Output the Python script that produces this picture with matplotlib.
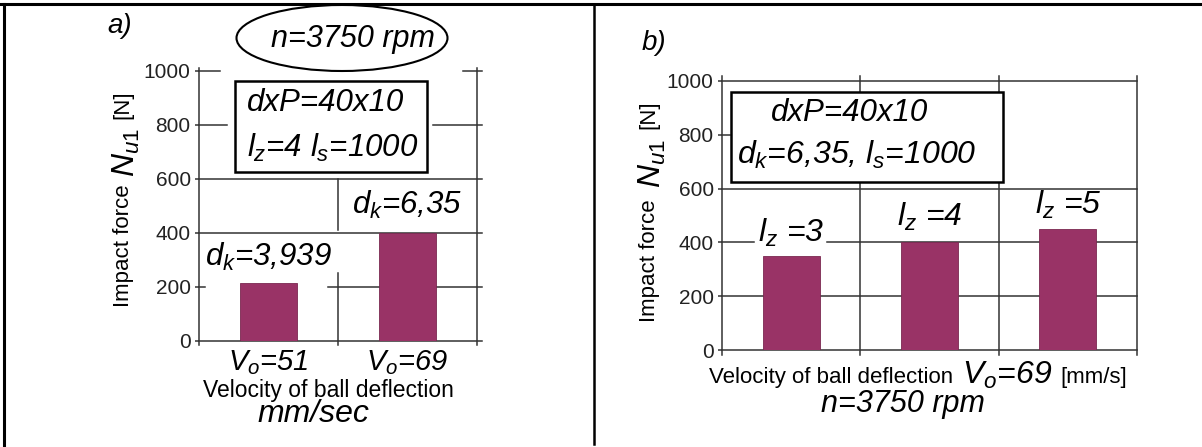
import matplotlib
matplotlib.use("Agg")
import matplotlib.pyplot as plt
from matplotlib.patches import Ellipse, Rectangle
from matplotlib.lines import Line2D

plt.rcParams['font.family'] = ['Liberation Sans', 'DejaVu Sans']
plt.rcParams['mathtext.fontset'] = 'custom'
plt.rcParams['mathtext.rm'] = 'Liberation Sans'
plt.rcParams['mathtext.it'] = 'Liberation Sans:italic'
plt.rcParams['mathtext.default'] = 'it'

# ===== Data =====
cats_a = [r'$V_o$=51', r'$V_o$=69']
force_a = [215, 400]
labels_a = [r'$d_k$=3,939', r'$d_k$=6,35']
label_y_a = [311, 504]

cats_b = ['3', '4', '5']
force_b = [350, 400, 450]
labels_b = [r'$l_z$ =3', r'$l_z$ =4', r'$l_z$ =5']
label_y_b = [435, 494, 539]

yticks = [0, 200, 400, 600, 800, 1000]
bar_color = '#993366'
grid_c = '#333333'

W, H = 1202, 447
fig = plt.figure(figsize=(W / 100, H / 100), dpi=100)


def px(x, y):
    return x / W, 1 - y / H


def hseg(ax, y, segs):
    for a, b in segs:
        ax.axhline(y, a, b, color=grid_c, lw=1.1, clip_on=False, zorder=1)


def vseg(ax, x, segs):
    for a, b in segs:
        ax.axvline(x, a, b, color=grid_c, lw=1.1, clip_on=False, zorder=1)


def setup(ax, ncat):
    ax.set_xlim(-0.5, ncat - 0.5)
    ax.set_ylim(0, 1000)
    for s in ax.spines.values():
        s.set_visible(False)
    ax.set_yticks(yticks)
    ax.tick_params(axis='y', length=3, width=1.1, color=grid_c, labelsize=15, pad=3,
                   labelcolor='#222222')
    ax.tick_params(axis='x', length=0)


# ===== Panel a =====
l, r, t, b = 199, 477, 71, 341
ax0 = fig.add_axes([l / W, 1 - b / H, (r - l) / W, (b - t) / H])
setup(ax0, 2)
ax0.bar(range(2), force_a, width=0.41, color=bar_color, edgecolor='#7a2850', lw=0.6, zorder=3)
ax0.set_xticks(range(2), cats_a, fontsize=21, style='italic')
ax0.tick_params(axis='x', pad=5)

ext = 1.018
hseg(ax0, 1000, [(0, 0.075), (0.95, ext)])
hseg(ax0, 800, [(0, 0.10), (0.842, ext)])
hseg(ax0, 600, [(0, ext)])
hseg(ax0, 400, [(0, ext)])
hseg(ax0, 200, [(0, 0.02), (0.464, ext)])
hseg(ax0, 0, [(0, ext)])
vseg(ax0, -0.5, [(-0.015, 1.011)])
vseg(ax0, 0.5, [(-0.015, 0.252), (0.411, 0.6)])
vseg(ax0, 1.5, [(-0.015, 1.011)])

for i, (txt, ly) in enumerate(zip(labels_a, label_y_a)):
    ax0.text(i, ly, txt, ha='center', va='center', fontsize=22.5, style='italic', zorder=4)

ax0.add_patch(Rectangle((-0.24, 626), 1.38, 337, fill=True, facecolor='white',
                        edgecolor='black', lw=1.8, zorder=4))
ax0.text(-0.155, 881, 'dxP=40x10', ha='left', va='center', fontsize=22.5, style='italic', zorder=5)
ax0.text(-0.155, 715, r'$l_z$=4 $l_s$=1000', ha='left', va='center', fontsize=22.5,
         style='italic', zorder=5)

fig.text(*px(120, 26), 'a)', fontsize=20, style='italic', ha='center', va='center')
ell = Ellipse(px(342, 38), 211 / W, 66 / H, transform=fig.transFigure,
              facecolor='white', edgecolor='black', lw=1.5, zorder=5)
fig.add_artist(ell)
fig.text(*px(353, 39), 'n=3750 rpm', fontsize=22, style='italic', ha='center', va='center', zorder=6)

fig.text(*px(123, 246), 'Impact force', fontsize=16, rotation=90, ha='center', va='center')
fig.text(*px(126, 153), r'$N_{u1}$', fontsize=23, rotation=90, ha='center', va='center')
fig.text(*px(123, 105), '[N]', fontsize=16, rotation=90, ha='center', va='center')
fig.text(*px(328, 390), 'Velocity of ball deflection', fontsize=16.5, ha='center', va='center')
fig.text(*px(313, 414), 'mm/sec', fontsize=23, style='italic', ha='center', va='center')

# ===== Panel b =====
l, r, t, b = 722, 1137, 81, 350
ax1 = fig.add_axes([l / W, 1 - b / H, (r - l) / W, (b - t) / H])
setup(ax1, 3)
ax1.bar(range(3), force_b, width=0.41, color=bar_color, edgecolor='#7a2850', lw=0.6, zorder=3)
ax1.set_xticks([])

hseg(ax1, 1000, [(0, 1)])
hseg(ax1, 800, [(0, 0.02)])
hseg(ax1, 600, [(0, 1)])
hseg(ax1, 400, [(0, 0.077), (0.253, 1)])
hseg(ax1, 200, [(0, 1)])
hseg(ax1, 0, [(0, 1)])
for xv in [-0.5, 0.5, 1.5, 2.5]:
    vseg(ax1, xv, [(-0.018, 1.018)])

for i, (txt, ly) in enumerate(zip(labels_b, label_y_b)):
    ax1.text(i, ly, txt, ha='center', va='center', fontsize=23, style='italic', zorder=4)

ax1.add_patch(Rectangle((-0.435, 624), 1.966, 335, fill=True, facecolor='white',
                        edgecolor='black', lw=1.8, zorder=4))
ax1.text(0.425, 881, 'dxP=40x10', ha='center', va='center', fontsize=22.5, style='italic', zorder=5)
ax1.text(0.476, 725, r'$d_k$=6,35, $l_s$=1000', ha='center', va='center', fontsize=23,
         style='italic', zorder=5)

fig.text(*px(654, 43), 'b)', fontsize=20, style='italic', ha='center', va='center')
fig.text(*px(649, 261), 'Impact force', fontsize=16, rotation=90, ha='center', va='center')
fig.text(*px(652, 164), r'$N_{u1}$', fontsize=23, rotation=90, ha='center', va='center')
fig.text(*px(649, 115), '[N]', fontsize=16, rotation=90, ha='center', va='center')
fig.text(*px(709, 378), 'Velocity of ball deflection', fontsize=16, ha='left', va='center')
fig.text(*px(962, 375), r'$V_o$=69', fontsize=23, style='italic', ha='left', va='center')
fig.text(*px(1060, 378), '[mm/s]', fontsize=16, ha='left', va='center')
fig.text(*px(903, 404), 'n=3750 rpm', fontsize=22, style='italic', ha='center', va='center')

# ===== Frame =====
fig.add_artist(Line2D([0, 1], [1 - 4 / H, 1 - 4 / H], transform=fig.transFigure, color='black', lw=2.2))
fig.add_artist(Line2D([4 / W, 4 / W], [0, 1 - 4 / H], transform=fig.transFigure, color='black', lw=2.2))
fig.add_artist(Line2D([594 / W, 594 / W], [3 / H, 1 - 4 / H], transform=fig.transFigure, color='black', lw=1.8))

fig.savefig('out.png', dpi=100)
plt.close(fig)
